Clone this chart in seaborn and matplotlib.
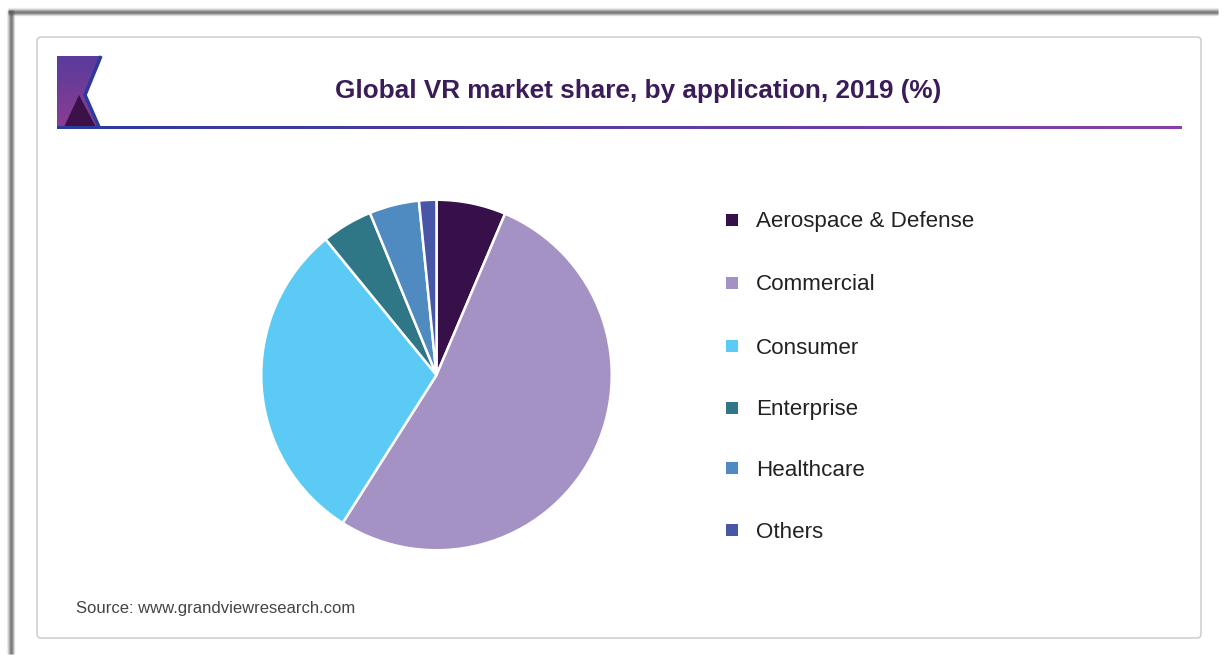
import numpy as np
import matplotlib.pyplot as plt
import matplotlib.patches as mpatches
import seaborn as sns

# данные
categories = ['Aerospace & Defense', 'Commercial', 'Consumer', 'Enterprise', 'Healthcare', 'Others']
shares = [6.4, 52.6, 30.1, 4.7, 4.6, 1.6]
colors = ['#37104a', '#a492c4', '#5bcbf5', '#2f7787', '#4f8bc0', '#4756a6']

title = 'Global VR market share, by application, 2019 (%)'
source = 'Source: www.grandviewresearch.com'

sns.set_style('white')
plt.rcParams['font.family'] = ['Liberation Sans', 'DejaVu Sans']

W, H = 1226, 659
fig = plt.figure(figsize=(W / 100, H / 100), dpi=100)

# фон и рамки в пиксельных координатах
bg = fig.add_axes([0, 0, 1, 1])
bg.set_xlim(0, W)
bg.set_ylim(H, 0)
bg.axis('off')

# размытая тень сверху и слева
for i, a in enumerate([0.08, 0.2, 0.4, 0.6, 0.7, 0.6, 0.35, 0.15]):
    bg.plot([8, 1218], [8 + i, 8 + i], color='#555555', alpha=a, lw=1, solid_capstyle='butt')
    bg.plot([7 + i, 7 + i], [10, 654], color='#555555', alpha=a, lw=1, solid_capstyle='butt')
bg.add_patch(mpatches.Rectangle((15, 16), 1205, 640, fc='white', ec='none'))

# внутренняя рамка
box = mpatches.FancyBboxPatch((37, 37), 1164, 601, boxstyle='round,pad=0,rounding_size=4',
                              fc='white', ec='#c8c8c8', lw=1)
bg.add_patch(box)

# логотип
logo_cmap = sns.blend_palette(['#5a3b9c', '#8b3d93'], as_cmap=True)
bg.imshow(np.linspace(0, 1, 64)[:, None], cmap=logo_cmap, aspect='auto',
          extent=(57, 101, 128, 56), interpolation='bilinear', zorder=3)
bg.add_patch(mpatches.Polygon([[101, 55], [103, 55], [103, 129], [99, 129], [85, 95]],
                              closed=True, fc='white', ec='none', zorder=4))
bg.plot([101, 85, 99], [56, 95, 127], color='#2b3a9c', lw=2.5, solid_capstyle='butt', zorder=5)
bg.add_patch(mpatches.Polygon([[79, 95], [64, 127], [96, 127]], closed=True, fc='#3a1248',
                              ec='none', zorder=5))

# линия под заголовком (градиент синий -> фиолетовый)
cmap_line = sns.blend_palette(['#2b3a9c', '#8a3fa6'], as_cmap=True)
bg.imshow(np.linspace(0, 1, 256)[None, :], cmap=cmap_line, aspect='auto',
          extent=(57, 1182, 129, 126), interpolation='bilinear', zorder=6)
bg.set_xlim(0, W)
bg.set_ylim(H, 0)

bg.text(638, 91, title, ha='center', va='center', fontsize=18.8, fontweight='bold', color='#3a1c5a')
bg.text(76, 609, source, ha='left', va='center', fontsize=12, color='#444444')

# круговая диаграмма
cx, cy, r = 436.5, 375, 177
pie_ax = fig.add_axes([(cx - r) / W, 1 - (cy + r) / H, 2 * r / W, 2 * r / H])
pie_ax.pie(shares, colors=colors, startangle=90, counterclock=False,
           wedgeprops=dict(edgecolor='white', linewidth=1.8))
pie_ax.set_xlim(-1.01, 1.01)
pie_ax.set_ylim(-1.01, 1.01)
pie_ax.axis('off')

# легенда
leg_y = [220, 283, 346, 408, 468, 530]
for name, col, y in zip(categories, colors, leg_y):
    bg.add_patch(mpatches.Rectangle((726, y - 6), 12, 12, fc=col, ec='none'))
    bg.text(756, y + 2, name, ha='left', va='center', fontsize=16.1, color='#222222')

plt.savefig('out.png', dpi=100)
